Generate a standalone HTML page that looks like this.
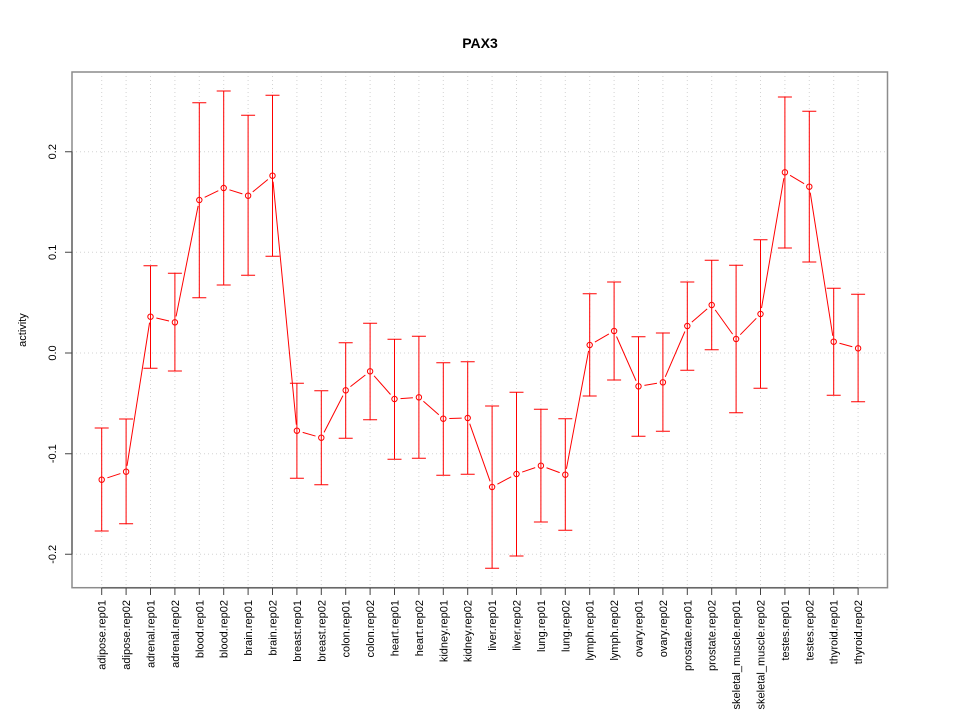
<!DOCTYPE html>
<html><head><meta charset="utf-8"><style>
html,body{margin:0;padding:0;background:#fff;}
svg{display:block;}
text{font-family:"Liberation Sans",Arial,sans-serif;fill:#000;}
</style></head><body>
<svg width="960" height="720" viewBox="0 0 960 720" xmlns="http://www.w3.org/2000/svg">
<rect width="960" height="720" fill="#fff"/>
<g stroke="#d3d3d3" stroke-width="1" stroke-dasharray="1,3" fill="none">
<path d="M101.7 72V588M126.1 72V588M150.5 72V588M174.9 72V588M199.3 72V588M223.7 72V588M248.1 72V588M272.5 72V588M296.9 72V588M321.3 72V588M345.7 72V588M370.1 72V588M394.5 72V588M418.9 72V588M443.3 72V588M467.7 72V588M492.1 72V588M516.5 72V588M540.9 72V588M565.3 72V588M589.7 72V588M614.1 72V588M638.5 72V588M662.9 72V588M687.3 72V588M711.7 72V588M736.1 72V588M760.5 72V588M784.9 72V588M809.3 72V588M833.7 72V588M858.1 72V588"/>
<path d="M72 151.7H887M72 252.3H887M72 353H887M72 453.7H887M72 554.3H887"/>
</g>
<rect x="72" y="72" width="815.5" height="515.7" fill="none" stroke="#8c8c8c" stroke-width="1.5"/>
<g stroke="#444" stroke-width="1" fill="none">
<path d="M72 151.7V554.3M65 151.7H72M65 252.3H72M65 353H72M65 453.7H72M65 554.3H72"/>
<path d="M101.7 588H858.1M101.7 588v7M126.1 588v7M150.5 588v7M174.9 588v7M199.3 588v7M223.7 588v7M248.1 588v7M272.5 588v7M296.9 588v7M321.3 588v7M345.7 588v7M370.1 588v7M394.5 588v7M418.9 588v7M443.3 588v7M467.7 588v7M492.1 588v7M516.5 588v7M540.9 588v7M565.3 588v7M589.7 588v7M614.1 588v7M638.5 588v7M662.9 588v7M687.3 588v7M711.7 588v7M736.1 588v7M760.5 588v7M784.9 588v7M809.3 588v7M833.7 588v7M858.1 588v7"/>
</g>
<g stroke="#ff0000" stroke-width="1" fill="none">
<path d="M101.7 428V531M94.7 428h14M94.7 531h14
M126.1 419V523.7M119.1 419h14M119.1 523.7h14
M150.5 265.7V368.3M143.5 265.7h14M143.5 368.3h14
M174.9 273.3V371M167.9 273.3h14M167.9 371h14
M199.3 102.7V297.7M192.3 102.7h14M192.3 297.7h14
M223.7 91V285M216.7 91h14M216.7 285h14
M248.1 115.3V275.3M241.1 115.3h14M241.1 275.3h14
M272.5 95.3V256.3M265.5 95.3h14M265.5 256.3h14
M296.9 383.3V478.2M289.9 383.3h14M289.9 478.2h14
M321.3 390.7V484.7M314.3 390.7h14M314.3 484.7h14
M345.7 342.7V438.3M338.7 342.7h14M338.7 438.3h14
M370.1 323.3V419.7M363.1 323.3h14M363.1 419.7h14
M394.5 339.3V459.3M387.5 339.3h14M387.5 459.3h14
M418.9 336.3V458.3M411.9 336.3h14M411.9 458.3h14
M443.3 362.7V475.3M436.3 362.7h14M436.3 475.3h14
M467.7 361.7V474.3M460.7 361.7h14M460.7 474.3h14
M492.1 406V568.3M485.1 406h14M485.1 568.3h14
M516.5 392.3V556M509.5 392.3h14M509.5 556h14
M540.9 409.3V522M533.9 409.3h14M533.9 522h14
M565.3 418.7V530.3M558.3 418.7h14M558.3 530.3h14
M589.7 293.7V396M582.7 293.7h14M582.7 396h14
M614.1 282V380M607.1 282h14M607.1 380h14
M638.5 336.7V436.3M631.5 336.7h14M631.5 436.3h14
M662.9 333V431.3M655.9 333h14M655.9 431.3h14
M687.3 282V370.3M680.3 282h14M680.3 370.3h14
M711.7 260.3V349.7M704.7 260.3h14M704.7 349.7h14
M736.1 265.3V412.7M729.1 265.3h14M729.1 412.7h14
M760.5 239.7V388.3M753.5 239.7h14M753.5 388.3h14
M784.9 97V248M777.9 97h14M777.9 248h14
M809.3 111.3V262M802.3 111.3h14M802.3 262h14
M833.7 288.3V395.3M826.7 288.3h14M826.7 395.3h14
M858.1 294.3V401.7M851.1 294.3h14M851.1 401.7h14"/>
<path d="M107.4 477.83L120.4 473.57M127.03 465.77L149.57 322.63M156.35 318.04L169.05 320.96M176.07 316.42L198.13 205.88M204.68 197.35L218.32 190.65M229.42 189.81L242.38 193.89M252.74 191.9L267.86 179.5M273.07 181.67L296.33 424.73M302.67 432.35L315.53 436.05M324.05 432.37L342.95 395.63M350.43 386.61L365.37 374.99M374.07 375.8L390.53 394.5M400.49 398.58L412.91 397.72M423.41 401.26L438.79 414.74M449.3 418.53L461.7 418.17M469.7 423.66L490.1 481.34M497.4 484.18L511.2 476.82M522.18 472.07L535.22 467.63M546.53 467.78L559.67 472.62M566.41 468.8L588.59 350.9M594.9 342.01L608.9 333.99M616.52 336.49L636.08 380.81M644.42 385.33L656.98 383.27M665.29 376.8L684.91 331.5M691.85 322.09L707.15 308.91M715.2 309.87L732.6 334.13M740.29 334.71L756.31 318.29M761.52 308.09L783.88 178.21M790.07 175.35L804.13 183.65M810.23 192.63L832.77 335.77M839.49 343.27L852.31 346.73"/>
<circle cx="101.7" cy="479.7" r="2.7"/><circle cx="126.1" cy="471.7" r="2.7"/><circle cx="150.5" cy="316.7" r="2.7"/><circle cx="174.9" cy="322.3" r="2.7"/><circle cx="199.3" cy="200" r="2.7"/><circle cx="223.7" cy="188" r="2.7"/><circle cx="248.1" cy="195.7" r="2.7"/><circle cx="272.5" cy="175.7" r="2.7"/><circle cx="296.9" cy="430.7" r="2.7"/><circle cx="321.3" cy="437.7" r="2.7"/><circle cx="345.7" cy="390.3" r="2.7"/><circle cx="370.1" cy="371.3" r="2.7"/><circle cx="394.5" cy="399" r="2.7"/><circle cx="418.9" cy="397.3" r="2.7"/><circle cx="443.3" cy="418.7" r="2.7"/><circle cx="467.7" cy="418" r="2.7"/><circle cx="492.1" cy="487" r="2.7"/><circle cx="516.5" cy="474" r="2.7"/><circle cx="540.9" cy="465.7" r="2.7"/><circle cx="565.3" cy="474.7" r="2.7"/><circle cx="589.7" cy="345" r="2.7"/><circle cx="614.1" cy="331" r="2.7"/><circle cx="638.5" cy="386.3" r="2.7"/><circle cx="662.9" cy="382.3" r="2.7"/><circle cx="687.3" cy="326" r="2.7"/><circle cx="711.7" cy="305" r="2.7"/><circle cx="736.1" cy="339" r="2.7"/><circle cx="760.5" cy="314" r="2.7"/><circle cx="784.9" cy="172.3" r="2.7"/><circle cx="809.3" cy="186.7" r="2.7"/><circle cx="833.7" cy="341.7" r="2.7"/><circle cx="858.1" cy="348.3" r="2.7"/>
</g>
<text x="480" y="48" font-size="14" font-weight="bold" text-anchor="middle">PAX3</text>
<g font-size="11" text-anchor="middle">
<text transform="translate(56,151.7) rotate(-90)">0.2</text>
<text transform="translate(56,252.3) rotate(-90)">0.1</text>
<text transform="translate(56,353) rotate(-90)">0.0</text>
<text transform="translate(56,453.7) rotate(-90)">-0.1</text>
<text transform="translate(56,554.3) rotate(-90)">-0.2</text>
<text transform="translate(26,330) rotate(-90)">activity</text>
</g>
<g font-size="11" text-anchor="end">
<text transform="translate(105.7,600) rotate(-90)">adipose.rep01</text>
<text transform="translate(130.1,600) rotate(-90)">adipose.rep02</text>
<text transform="translate(154.5,600) rotate(-90)">adrenal.rep01</text>
<text transform="translate(178.9,600) rotate(-90)">adrenal.rep02</text>
<text transform="translate(203.3,600) rotate(-90)">blood.rep01</text>
<text transform="translate(227.7,600) rotate(-90)">blood.rep02</text>
<text transform="translate(252.1,600) rotate(-90)">brain.rep01</text>
<text transform="translate(276.5,600) rotate(-90)">brain.rep02</text>
<text transform="translate(300.9,600) rotate(-90)">breast.rep01</text>
<text transform="translate(325.3,600) rotate(-90)">breast.rep02</text>
<text transform="translate(349.7,600) rotate(-90)">colon.rep01</text>
<text transform="translate(374.1,600) rotate(-90)">colon.rep02</text>
<text transform="translate(398.5,600) rotate(-90)">heart.rep01</text>
<text transform="translate(422.9,600) rotate(-90)">heart.rep02</text>
<text transform="translate(447.3,600) rotate(-90)">kidney.rep01</text>
<text transform="translate(471.7,600) rotate(-90)">kidney.rep02</text>
<text transform="translate(496.1,600) rotate(-90)">liver.rep01</text>
<text transform="translate(520.5,600) rotate(-90)">liver.rep02</text>
<text transform="translate(544.9,600) rotate(-90)">lung.rep01</text>
<text transform="translate(569.3,600) rotate(-90)">lung.rep02</text>
<text transform="translate(593.7,600) rotate(-90)">lymph.rep01</text>
<text transform="translate(618.1,600) rotate(-90)">lymph.rep02</text>
<text transform="translate(642.5,600) rotate(-90)">ovary.rep01</text>
<text transform="translate(666.9,600) rotate(-90)">ovary.rep02</text>
<text transform="translate(691.3,600) rotate(-90)">prostate.rep01</text>
<text transform="translate(715.7,600) rotate(-90)">prostate.rep02</text>
<text transform="translate(740.1,600) rotate(-90)">skeletal_muscle.rep01</text>
<text transform="translate(764.5,600) rotate(-90)">skeletal_muscle.rep02</text>
<text transform="translate(788.9,600) rotate(-90)">testes.rep01</text>
<text transform="translate(813.3,600) rotate(-90)">testes.rep02</text>
<text transform="translate(837.7,600) rotate(-90)">thyroid.rep01</text>
<text transform="translate(862.1,600) rotate(-90)">thyroid.rep02</text>
</g>
</svg>
</body></html>
